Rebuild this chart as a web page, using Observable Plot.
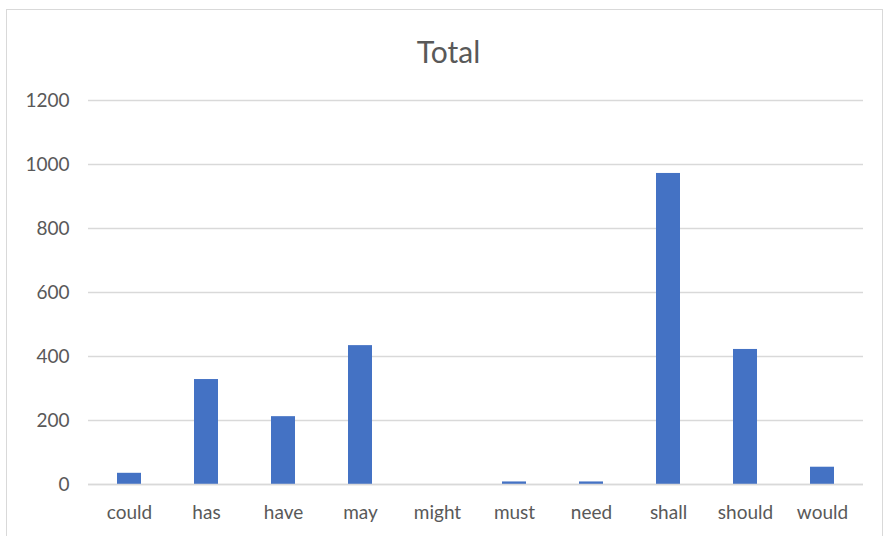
<!DOCTYPE html>
<html>
<head>
<meta charset="utf-8">
<script src="https://cdn.jsdelivr.net/npm/d3@7"></script>
<script src="https://cdn.jsdelivr.net/npm/@observablehq/plot@0.6"></script>
<style>
  html, body { margin: 0; padding: 0; background: #fff; }
  #wrap { position: relative; width: 887px; height: 536px; overflow: hidden; font-family: Lato, "Open Sans", sans-serif; }
  #frame { position: absolute; left: 6px; top: 9px; width: 877px; height: 540px; border: 1.5px solid #d9d9d9; box-sizing: border-box; }
  #title { position: absolute; left: 0; top: 0; width: 887px; height: 80px; text-align: center; line-height: 102px; font-size: 30px; color: #595959; padding-left: 10px; box-sizing: border-box; }
  #chart { position: absolute; left: 0; top: 80px; }
</style>
</head>
<body>
<div id="wrap">
  <div id="frame"></div>
  <div id="title">Total</div>
  <div id="chart"></div>
</div>
<script>
const categories = ["could", "has", "have", "may", "might", "must", "need", "shall", "should", "would"];
const totals = [35, 328, 212, 434, 0, 8, 8, 972, 422, 54];
const yTicks = [0, 200, 400, 600, 800, 1000, 1200];

const data = categories.map((c, i) => ({ word: c, total: totals[i] }));

const chart = Plot.plot({
  width: 887,
  height: 456,
  marginTop: 20,
  marginBottom: 52,
  marginLeft: 88,
  marginRight: 24,
  style: { fontFamily: "Lato, 'Open Sans', sans-serif", fontSize: "19px", color: "#595959", background: "transparent" },
  x: { domain: categories, paddingInner: 0.69, paddingOuter: 0.345, label: null },
  y: { domain: [0, 1200], label: null },
  marks: [
    Plot.ruleY(yTicks, { stroke: "#d9d9d9", strokeWidth: 1.5, strokeOpacity: 1 }),
    Plot.barY(data, { x: "word", y: "total", fill: "#4472C4" }),
    Plot.ruleY([0], { stroke: "#d9d9d9", strokeWidth: 1.5 }),
    Plot.axisY(yTicks, { tickSize: 0, tickPadding: 19, tickFormat: "d", fill: "#595959", fontSize: 19, label: null }),
    Plot.axisX({ tickSize: 0, tickPadding: 21, fill: "#595959", fontSize: 19, label: null })
  ]
});
document.getElementById("chart").appendChild(chart);
</script>
</body>
</html>
